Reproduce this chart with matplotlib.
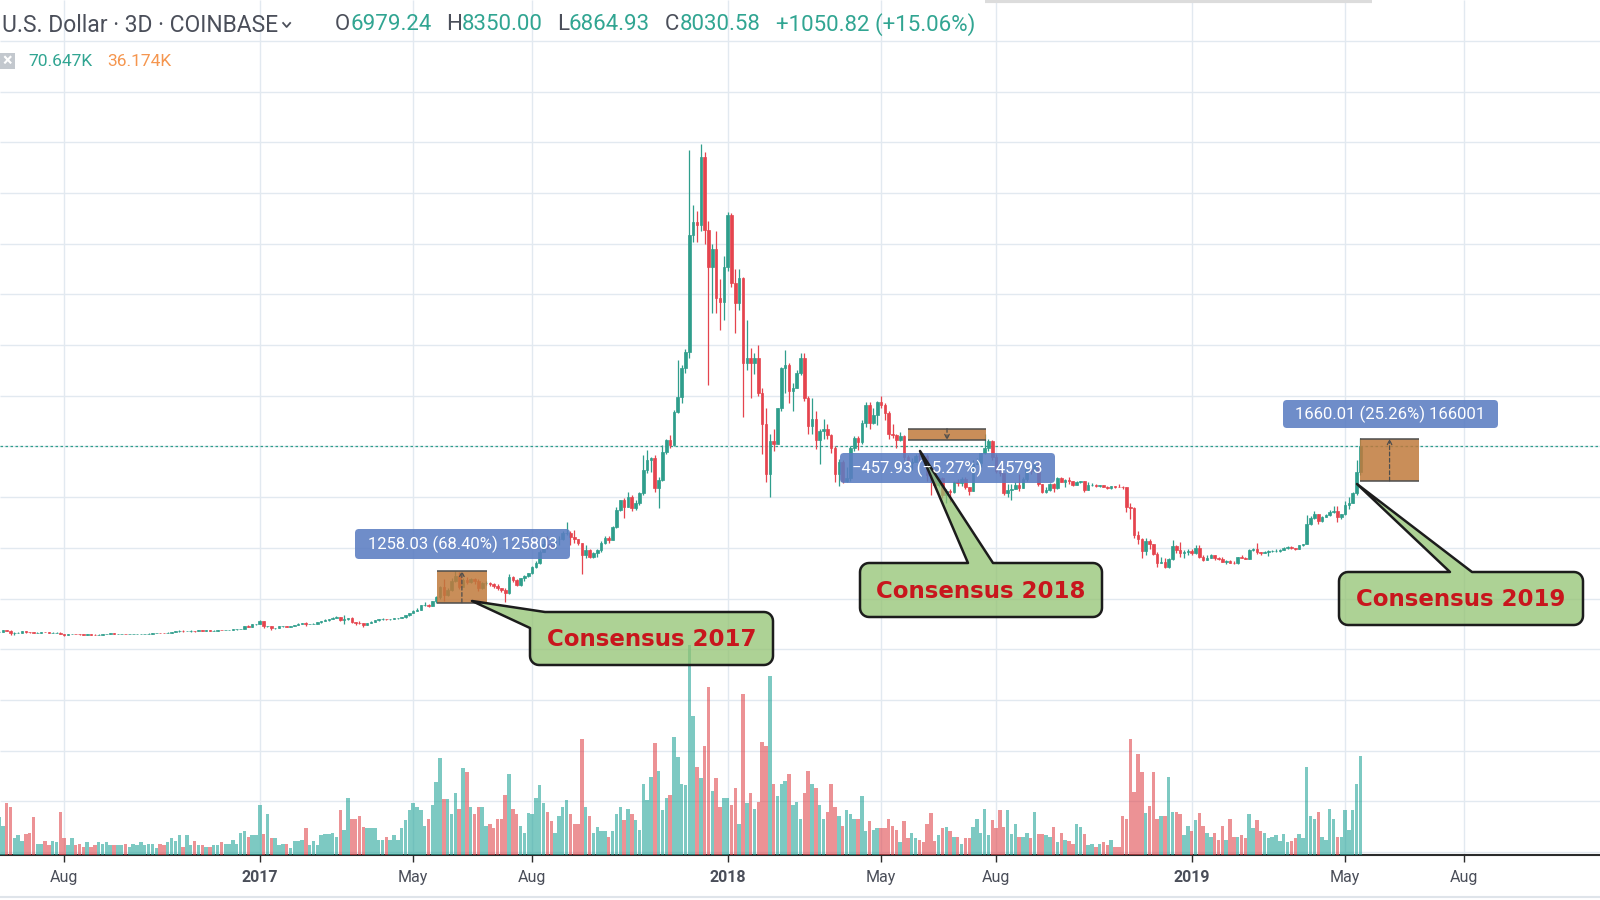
import numpy as np
import pandas as pd
import matplotlib
matplotlib.use("Agg")
import matplotlib.pyplot as plt
from matplotlib.patches import Rectangle, FancyBboxPatch, Polygon

plt.rcParams["font.family"] = ["Roboto", "DejaVu Sans"]

# ---------------------------------------
# Data : BTC / U.S. Dollar, 3D candles, COINBASE
# ---------------------------------------
start_date = "2016-06-12"
first_open = 665

close = [
    690, 750, 735, 625, 630, 640, 700, 670, 665, 650,
    655, 680, 665, 655, 655, 655, 610, 575, 590, 590,
    585, 580, 575, 590, 578, 575, 575, 600, 610, 623,
    608, 608, 610, 597, 603, 606, 609, 612, 613, 617,
    637, 640, 637, 632, 653, 680, 700, 735, 705, 710,
    715, 705, 740, 730, 740, 735, 735, 770, 755, 770,
    770, 780, 790, 800, 920, 895, 975, 1000, 1130, 900,
    905, 825, 830, 900, 925, 890, 920, 965, 1010, 1025,
    980, 1000, 1010, 1055, 1120, 1170, 1190, 1250, 1270, 1150,
    1175, 1240, 1070, 1050, 1040, 960, 1040, 1090, 1140, 1190,
    1210, 1180, 1180, 1215, 1240, 1265, 1330, 1420, 1520, 1560,
    1750, 1760, 1720, 1900, 2050, 2460, 2150, 2330, 2700, 2880,
    2470, 2730, 2660, 2750, 2700, 2420, 2600, 2620, 2560, 2480,
    2400, 2330, 2200, 2860, 2730, 2530, 2790, 2880, 2990, 3250,
    3420, 3850, 4160, 4100, 4000, 4330, 4350, 4580, 4580, 4410,
    4330, 4170, 3700, 3900, 3630, 3780, 3900, 4200, 4400, 4320,
    4834, 5492, 5887, 5624, 6017, 5558, 5755, 6150, 7070, 7465,
    7531, 6347, 6675, 7793, 8252, 8055, 9369, 9961, 11081, 11737,
    16340, 16865, 16734, 19430, 16537, 15090, 15800, 13850, 13700, 15090,
    17130, 14440, 13650, 14640, 11280, 11500, 11300, 11500, 10100, 8900,
    6900, 8200, 8100, 9500, 11100, 11200, 10200, 10300, 10900, 11500,
    9900, 8800, 9100, 8270, 8600, 8700, 8450, 7950, 6930, 7400,
    6620, 6770, 7920, 8350, 8160, 8920, 9650, 8930, 9240, 9740,
    9650, 9310, 8470, 8460, 8240, 8400, 7590, 7350, 7400, 7640,
    7630, 7620, 6880, 6650, 6460, 6760, 6100, 6250, 6200, 6610,
    6560, 6710, 6390, 6250, 7320, 7340, 7720, 7950, 8220, 7600,
    7030, 6950, 6160, 6270, 6310, 6480, 6370, 6720, 7100, 7020,
    7260, 6500, 6190, 6270, 6520, 6340, 6770, 6590, 6690, 6630,
    6490, 6590, 6640, 6290, 6460, 6490, 6440, 6460, 6400, 6350,
    6420, 6410, 6400, 6390, 5600, 5560, 4500, 4350, 3880, 4260,
    4150, 3760, 3420, 3430, 3250, 3550, 4080, 3930, 3780, 3850,
    3880, 3780, 4000, 3630, 3510, 3610, 3700, 3580, 3570, 3440,
    3460, 3410, 3400, 3620, 3600, 3570, 3900, 3940, 3820, 3810,
    3820, 3860, 3870, 3880, 3920, 3990, 4050, 3990, 3950, 4100,
    4140, 4930, 5170, 5340, 5070, 5220, 5290, 5400, 5440, 5200,
    5320, 5700, 5750, 6150, 6979.24, 8030.58,
]

high = [
    720, 775, 765, 740, 680, 660, 705, 705, 680, 670,
    670, 685, 680, 670, 665, 660, 660, 615, 595, 600,
    595, 590, 585, 595, 590, 585, 580, 605, 615, 630,
    625, 612, 612, 612, 605, 610, 612, 615, 616, 620,
    640, 643, 642, 638, 660, 685, 705, 740, 740, 715,
    740, 720, 745, 750, 745, 745, 740, 775, 770, 775,
    775, 785, 790, 800, 925, 935, 985, 1010, 1150, 1130,
    920, 910, 850, 905, 930, 925, 925, 970, 1015, 1030,
    1065, 1005, 1015, 1060, 1125, 1180, 1200, 1255, 1290, 1275,
    1330, 1250, 1260, 1075, 1110, 1050, 1045, 1095, 1150, 1200,
    1215, 1210, 1190, 1220, 1245, 1280, 1340, 1425, 1540, 1620,
    1760, 1850, 1770, 1910, 2100, 2500, 2760, 2400, 2800, 3097,
    3050, 2800, 2850, 2800, 2790, 2760, 2640, 2680, 2650, 2600,
    2560, 2430, 2400, 2950, 2900, 2780, 2820, 2930, 3000, 3300,
    3480, 3900, 4400, 4480, 4200, 4360, 4460, 4650, 5000, 4650,
    4700, 4350, 4200, 4100, 3950, 3820, 3950, 4250, 4450, 4470,
    4850, 5600, 5900, 5950, 6215, 6100, 5900, 6200, 7663, 7860,
    7600, 7650, 6800, 8055, 8300, 8450, 9450, 11409, 11200, 11850,
    19690, 17523, 17300, 19930, 19600, 16900, 16000, 16500, 14600, 15500,
    17250, 17200, 15000, 15000, 14700, 13000, 11900, 11700, 12000, 10300,
    9500, 8500, 8700, 9500, 11150, 11800, 11300, 10500, 11000, 11700,
    11700, 10000, 9900, 9400, 8700, 9100, 8900, 8500, 8000, 7500,
    7450, 7200, 8000, 8400, 8400, 9050, 9750, 9750, 9500, 9800,
    9990, 9700, 9400, 8900, 8500, 8550, 8450, 7650, 7550, 7700,
    7750, 7750, 7700, 6900, 6680, 6850, 6800, 6300, 6300, 6650,
    6700, 6800, 6800, 6400, 7450, 7550, 7750, 8480, 8300, 8250,
    7700, 7150, 6950, 6500, 6500, 6600, 6900, 6800, 7130, 7140,
    7300, 7400, 6500, 6380, 6550, 6550, 6800, 6800, 6700, 6780,
    6650, 6620, 6650, 6650, 6590, 6560, 6510, 6470, 6470, 6420,
    6440, 6450, 6520, 6430, 6400, 5750, 5600, 4650, 4400, 4400,
    4350, 4150, 3850, 3650, 3600, 3600, 4300, 4100, 4240, 3900,
    3950, 3950, 4100, 4100, 3700, 3700, 3750, 3700, 3620, 3650,
    3500, 3520, 3480, 3650, 3700, 3650, 3950, 4000, 4200, 3850,
    3880, 3900, 3920, 3950, 3950, 4050, 4090, 4080, 4010, 4110,
    4150, 5300, 5250, 5470, 5350, 5250, 5330, 5500, 5630, 5650,
    5350, 5850, 6000, 6200, 7450, 8350.00,
]

low = [
    660, 680, 720, 550, 560, 620, 635, 650, 640, 640,
    645, 650, 660, 645, 650, 650, 600, 520, 570, 580,
    580, 565, 570, 575, 575, 570, 570, 570, 595, 605,
    600, 603, 604, 590, 595, 600, 603, 607, 608, 612,
    615, 633, 632, 625, 630, 650, 675, 695, 680, 700,
    690, 695, 700, 720, 725, 730, 725, 735, 750, 755,
    760, 765, 775, 780, 790, 860, 880, 960, 995, 850,
    875, 750, 805, 820, 890, 885, 885, 915, 965, 1000,
    920, 975, 980, 1005, 1050, 1120, 1120, 1180, 1240, 1125,
    975, 1170, 1050, 960, 1005, 890, 950, 1035, 1080, 1130,
    1170, 1165, 1150, 1180, 1205, 1225, 1250, 1315, 1410, 1500,
    1560, 1700, 1660, 1710, 1840, 2000, 1900, 2100, 2300, 2650,
    2380, 2440, 2560, 2600, 2560, 2300, 2380, 2520, 2500, 2420,
    2350, 2250, 1880, 2180, 2650, 2480, 2500, 2700, 2850, 2950,
    3200, 3370, 3820, 3950, 3950, 3970, 4110, 4300, 4500, 4100,
    4200, 4100, 2980, 3600, 3600, 3580, 3650, 3850, 4150, 4200,
    4300, 4800, 5450, 5163, 5600, 5450, 5500, 5700, 6100, 6950,
    7000, 6200, 5558, 6650, 7700, 7950, 8000, 9300, 9700, 10900,
    11500, 16077, 16077, 16500, 16000, 10422, 13250, 13250, 12600, 12990,
    14900, 14300, 12460, 13400, 9170, 11000, 9900, 10850, 10000, 7700,
    6600, 6000, 7800, 8100, 9400, 10100, 9700, 9400, 10300, 10800,
    9800, 8500, 8500, 7900, 7300, 8300, 8300, 7750, 6600, 6450,
    6550, 6600, 6650, 7800, 7850, 8100, 8750, 8700, 8900, 8850,
    9500, 9050, 8300, 8350, 7950, 8200, 7450, 7300, 7050, 7400,
    7400, 7550, 6650, 6100, 6400, 6400, 5950, 5770, 5800, 6180,
    6450, 6450, 6300, 6100, 6250, 7300, 7200, 7700, 7800, 7450,
    6950, 6850, 6100, 6000, 5880, 6300, 6250, 6350, 6650, 6900,
    7000, 6450, 6150, 6150, 6250, 6200, 6300, 6580, 6400, 6530,
    6450, 6480, 6550, 6200, 6280, 6440, 6400, 6400, 6380, 6300,
    6300, 6350, 6380, 6320, 5400, 5150, 4400, 4150, 3600, 3700,
    3950, 3700, 3250, 3400, 3200, 3200, 3500, 3780, 3650, 3600,
    3700, 3700, 3750, 3580, 3470, 3500, 3580, 3500, 3520, 3430,
    3380, 3390, 3370, 3370, 3580, 3560, 3560, 3860, 3750, 3700,
    3800, 3680, 3850, 3850, 3850, 3900, 3950, 3940, 3920, 3940,
    4080, 4140, 4900, 5150, 4950, 5000, 5200, 5260, 5390, 5000,
    5150, 5300, 5550, 5750, 6100, 6864.93,
]

# volume in thousands of BTC
volume_k = [
    27, 21, 37, 34, 12, 14, 10, 15, 16, 27,
    8, 8, 10, 7, 10, 9, 31, 12, 7, 12,
    7, 8, 6, 9, 6, 7, 9, 8, 9, 7,
    7, 7, 7, 8, 6, 8, 7, 9, 7, 8,
    8, 5, 8, 7, 9, 12, 10, 14, 6, 14,
    7, 10, 7, 7, 6, 6, 7, 7, 9, 8,
    8, 11, 8, 16, 17, 13, 14, 14, 36, 15,
    29, 12, 12, 7, 8, 8, 5, 10, 10, 11,
    19, 7, 10, 7, 14, 15, 15, 16, 13, 32,
    18, 41, 26, 26, 28, 20, 19, 19, 19, 11,
    11, 13, 11, 14, 11, 19, 25, 32, 37, 34,
    32, 21, 26, 36, 52, 69, 40, 40, 29, 44,
    33, 62, 59, 34, 29, 34, 34, 21, 22, 19,
    26, 26, 43, 58, 33, 29, 21, 16, 30, 29,
    41, 50, 37, 31, 24, 16, 28, 34, 39, 29,
    22, 22, 83, 34, 28, 16, 20, 17, 17, 13,
    17, 29, 34, 25, 33, 29, 25, 18, 51, 39,
    56, 80, 60, 32, 41, 43, 84, 70, 51, 50,
    150, 99, 63, 55, 78, 120, 46, 55, 34, 41,
    41, 36, 48, 22, 115, 37, 44, 33, 38, 81,
    78, 128, 51, 42, 51, 53, 58, 36, 38, 26,
    44, 60, 51, 48, 36, 26, 31, 51, 34, 28,
    21, 32, 29, 26, 26, 42, 17, 24, 18, 19,
    19, 19, 26, 21, 18, 9, 24, 12, 16, 12,
    11, 9, 22, 30, 10, 14, 19, 20, 17, 13,
    13, 8, 12, 12, 20, 26, 16, 33, 14, 25,
    19, 32, 20, 32, 15, 22, 13, 13, 16, 12,
    31, 15, 15, 14, 13, 20, 9, 16, 11, 10,
    8, 22, 20, 15, 7, 8, 6, 8, 9, 7,
    11, 6, 6, 28, 26, 83, 45, 72, 59, 30,
    35, 59, 26, 28, 28, 56, 31, 31, 29, 14,
    21, 17, 25, 30, 21, 16, 13, 16, 11, 21,
    11, 26, 13, 13, 14, 12, 29, 19, 25, 17,
    16, 12, 13, 14, 10, 15, 9, 10, 12, 15,
    12, 63, 28, 26, 31, 13, 11, 33, 26, 13,
    13, 32, 18, 32, 51, 70.647,
]

# price range tool boxes: (first bar, last bar, low price, high price, direction)
range_boxes = [
    (114.2, 127.2, 1839, 3097, "up"),
    (237.0, 257.4, 8245, 8703, "down"),
    (354.9, 370.3, 6640, 8300, "up"),
]
range_labels = ["1258.03 (68.40%) 125803",
                "\u2212457.93 (\u22125.27%) \u221245793",
                "1660.01 (25.26%) 166001"]
callout_texts = ["Consensus 2017", "Consensus 2018", "Consensus 2019"]

# ---------------------------------------
# Style / layout
# ---------------------------------------
UP = "#2f9e8c"
DOWN = "#e5444e"
VOL_UP = (38 / 255, 166 / 255, 154 / 255, 0.6)
VOL_DOWN = (224 / 255, 73 / 255, 79 / 255, 0.6)
GRID = "#e2e9f0"
TEAL_TXT = "#31a592"
ORANGE_TXT = "#f5964f"
DARK_TXT = "#4b4f5a"
BLUE = "#5b7dc2"
BOX_ORANGE = "#c07a3c"
CALLOUT_FILL = (146 / 255, 195 / 255, 114 / 255, 0.75)

W, H = 1600, 900
AX_BOTTOM = 855            # pixel row of the time axis
PX_PER_BAR = 3.835
BAR0_PX = -1.0
PX_PER_USD = 0.02535
ZERO_PX = 649.2
PX_PER_KVOL = 1.40

c = np.array(close, dtype=float)
h = np.array(high, dtype=float)
l = np.array(low, dtype=float)
v = np.array(volume_k, dtype=float)
o = np.r_[first_open, c[:-1]]
idx = np.arange(len(c))
rising = c >= o

fig = plt.figure(figsize=(16, 9), dpi=100)
ax = fig.add_axes([0, (H - AX_BOTTOM) / H, 1, AX_BOTTOM / H])
ax.set_xlim((0 - BAR0_PX) / PX_PER_BAR, (W - BAR0_PX) / PX_PER_BAR)
ax.set_ylim((ZERO_PX - AX_BOTTOM) / PX_PER_USD, ZERO_PX / PX_PER_USD)
x_lo, x_hi = ax.get_xlim()
y_lo, y_hi = ax.get_ylim()

# time axis ticks: first bar of Jan / May / Aug
dates = pd.date_range(start_date, periods=int(x_hi) + 1, freq="3D")
tick_pos, tick_lab, tick_bold = [], [], []
for i in range(1, len(dates)):
    if dates[i].month != dates[i - 1].month and dates[i].month in (1, 5, 8):
        tick_pos.append(i)
        if dates[i].month == 1:
            tick_lab.append(str(dates[i].year))
            tick_bold.append(True)
        else:
            tick_lab.append(dates[i].strftime("%b"))
            tick_bold.append(False)

# grid
ax.hlines(np.arange(-8000, 26000, 2000), x_lo, x_hi, color=GRID, lw=1.0, zorder=0)
ax.vlines(tick_pos, y_lo, y_hi, color=GRID, lw=1.0, zorder=0)

# candles
cols = np.where(rising, UP, DOWN)
ax.vlines(idx, l, h, colors=cols, lw=0.9, zorder=3)
ax.bar(idx, np.abs(c - o), bottom=np.minimum(o, c), width=0.68,
       color=cols, edgecolor=cols, linewidth=0.5, zorder=3)

# last price line
ax.axhline(c[-1], color=UP, lw=0.9, ls=(0, (2, 2)), zorder=2)

# price range boxes
for k0, k1, p0, p1, d in range_boxes:
    ax.add_patch(Rectangle((k0, p0), k1 - k0, p1 - p0, facecolor=BOX_ORANGE,
                           alpha=0.85, lw=0, zorder=5))
    ax.hlines([p0, p1], k0, k1, color="#4d4d4d", lw=1.1, zorder=6)
    km = (k0 + k1) / 2
    a, b = (p1, p0) if d == "up" else (p0, p1)
    ax.annotate("", xy=(km, a), xytext=(km, b),
                arrowprops=dict(arrowstyle="->", color="#4d4d4d", lw=0.9,
                                ls=(0, (3, 2)), shrinkA=0, shrinkB=0,
                                mutation_scale=8), zorder=6)

# axis look
for s in ["top", "left", "right"]:
    ax.spines[s].set_visible(False)
ax.spines["bottom"].set_color("#2b2b2b")
ax.spines["bottom"].set_linewidth(1.5)
ax.set_yticks([])
ax.set_xticks(tick_pos)
ax.set_xticklabels(tick_lab)
ax.tick_params(axis="x", direction="out", length=5, width=1, color="#2b2b2b",
               pad=6, labelsize=11.5, labelcolor="#4a4e59")
for lab, bold in zip(ax.get_xticklabels(), tick_bold):
    if bold:
        lab.set_fontweight("bold")

# volume on its own scale
axv = ax.twinx()
axv.set_ylim(0, AX_BOTTOM / PX_PER_KVOL)
axv.bar(idx, v, width=0.9, color=[VOL_UP if r else VOL_DOWN for r in rising],
        linewidth=0)
axv.set_yticks([])
for s in axv.spines.values():
    s.set_visible(False)
ax.set_xlim(x_lo, x_hi)

# ---------------------------------------
# Overlay in pixel units: header, labels, callouts
# ---------------------------------------
ov = fig.add_axes([0, 0, 1, 1])
ov.set_xlim(0, W)
ov.set_ylim(H, 0)
ov.axis("off")
ov.patch.set_alpha(0)
renderer = fig.canvas.get_renderer()


def text_run(x, y, parts, size, **kw):
    for s, col in parts:
        t = ov.text(x, y, s, color=col, fontsize=size, va="center", ha="left", **kw)
        x += t.get_window_extent(renderer=renderer).width
    return x


# header line 1
x_end = text_run(2, 25, [("U.S. Dollar \u00b7 3D \u00b7 COINBASE", DARK_TXT)], 16.5)
ov.plot([x_end + 5, x_end + 8.5, x_end + 12], [23, 27, 23], color=DARK_TXT, lw=1.3)
ohlc = [(335, "O", "6979.24"), (446, "H", "8350.00"), (557, "L", "6864.93"),
        (665, "C", "8030.58")]
for xp, letter, val in ohlc:
    text_run(xp, 25, [(letter, DARK_TXT), (val, TEAL_TXT)], 16)
text_run(776, 25, [("+1050.82 (+15.06%)", TEAL_TXT)], 16)

# header line 2 (volume legend)
ov.add_patch(Rectangle((0, 53), 15, 16, facecolor="#c3c8ce", edgecolor="none"))
ov.text(7.5, 61, "\u00d7", color="white", fontsize=13, ha="center", va="center",
        fontweight="bold")
text_run(28, 61, [("70.647K", TEAL_TXT)], 12.5)
text_run(107, 61, [("36.174K", ORANGE_TXT)], 12.5)

# toolbar shadow at the top
ov.plot([985, 1372], [1, 1], color="#dcdcdc", lw=3, solid_capstyle="butt")

# bottom frame line
ov.plot([0, W], [897, 897], color="#dfe4ea", lw=1.5)

# blue measure labels
label_boxes = [(355, 529, 570, 559), (840, 453, 1055, 483), (1283, 400, 1498, 428)]
for (x0, y0, x1, y1), txt in zip(label_boxes, range_labels):
    ov.add_patch(FancyBboxPatch((x0, y0), x1 - x0, y1 - y0,
                                boxstyle="round,pad=0,rounding_size=4",
                                facecolor=BLUE, edgecolor="none", alpha=0.88))
    ov.text((x0 + x1) / 2, (y0 + y1) / 2 + 0.5, txt, color="white", fontsize=12,
            ha="center", va="center")


def arc(cx, cy, r, a0, a1, n=8):
    t = np.radians(np.linspace(a0, a1, n))
    return list(zip(cx + r * np.cos(t), cy + r * np.sin(t)))


def callout_points(x0, y0, x1, y1, tip, a, b, corner=False, r=9):
    tl = arc(x0 + r, y0 + r, r, 180, 270)
    tr = arc(x1 - r, y0 + r, r, 270, 360)
    br = arc(x1 - r, y1 - r, r, 0, 90)
    bl = arc(x0 + r, y1 - r, r, 90, 180)
    if corner:
        return [tip, (a, y0)] + tr + br + bl + [(x0, b)]
    return tl + [(a, y0), tip, (b, y0)] + tr + br + bl


callouts = [
    ((530, 612, 773, 665), (472, 601), 545, 628, True),
    ((860, 563, 1102, 617), (920, 451), 968, 993, False),
    ((1339, 572, 1583, 625), (1357, 484), 1450, 1472, False),
]
for ((x0, y0, x1, y1), tip, a, b, corner), txt in zip(callouts, callout_texts):
    pts = callout_points(x0, y0, x1, y1, tip, a, b, corner)
    ov.add_patch(Polygon(pts, closed=True, facecolor=CALLOUT_FILL,
                         edgecolor="#1c1c1c", lw=1.8, joinstyle="round"))
    ov.text((x0 + x1) / 2, (y0 + y1) / 2 + 1, txt, color="#c8161d", fontsize=16.5,
            fontweight="bold", family="DejaVu Sans", ha="center", va="center")

fig.savefig("out.png", dpi=100)
